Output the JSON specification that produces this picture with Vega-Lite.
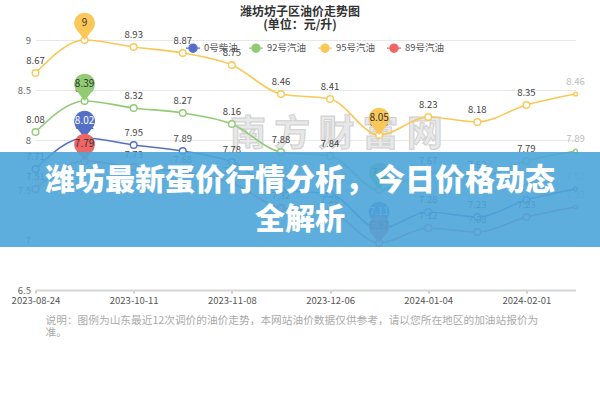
{
  "$schema": "https://vega.github.io/schema/vega-lite/v6.json",
  "width": 540,
  "height": 250,
  "autosize": "none",
  "padding": {"left": 35.5, "top": 40, "right": 24.5, "bottom": 110},
  "background": "white",
  "config": {"font": "Noto Sans CJK SC", "view": {"stroke": null}},
  "title": {
    "text": ["潍坊坊子区油价走势图", "(单位：元/升)"],
    "fontSize": 12,
    "fontWeight": "bold",
    "color": "#333333",
    "lineHeight": 13,
    "anchor": "middle",
    "frame": "group",
    "offset": 0,
    "dx": -5.5,
    "dy": 19
  },
  "datasets": {
    "oil": [
      {"idx": 0, "date": "2023-08-24", "0号柴油": 7.71, "92号汽油": 8.08, "95号汽油": 8.67, "89号汽油": 7.51},
      {"idx": 1, "date": "2023-09-21", "0号柴油": 8.02, "92号汽油": 8.39, "95号汽油": 9.00, "89号汽油": 7.79},
      {"idx": 2, "date": "2023-10-11", "0号柴油": 7.95, "92号汽油": 8.32, "95号汽油": 8.93, "89号汽油": 7.73},
      {"idx": 3, "date": "2023-10-25", "0号柴油": 7.89, "92号汽油": 8.27, "95号汽油": 8.87, "89号汽油": 7.68},
      {"idx": 4, "date": "2023-11-08", "0号柴油": 7.78, "92号汽油": 8.16, "95号汽油": 8.75, "89号汽油": 7.57},
      {"idx": 5, "date": "2023-11-22", "0号柴油": 7.50, "92号汽油": 7.88, "95号汽油": 8.46, "89号汽油": 7.32},
      {"idx": 6, "date": "2023-12-06", "0号柴油": 7.46, "92号汽油": 7.84, "95号汽油": 8.41, "89号汽油": 7.28},
      {"idx": 7, "date": "2023-12-20", "0号柴油": 7.11, "92号汽油": 7.50, "95号汽油": 8.05, "89号汽油": 6.97},
      {"idx": 8, "date": "2024-01-04", "0号柴油": 7.28, "92号汽油": 7.67, "95号汽油": 8.23, "89号汽油": 7.12},
      {"idx": 9, "date": "2024-01-18", "0号柴油": 7.23, "92号汽油": 7.63, "95号汽油": 8.18, "89号汽油": 7.08},
      {"idx": 10, "date": "2024-02-01", "0号柴油": 7.40, "92号汽油": 7.79, "95号汽油": 8.35, "89号汽油": 7.23},
      {"idx": 11, "date": "2024-02-20", "0号柴油": 7.51, "92号汽油": 7.89, "95号汽油": 8.46, "89号汽油": 7.33}
    ],
    "one": [{}]
  },
  "layer": [
    {
      "data": {"name": "one"},
      "mark": {"type": "text", "fontSize": 36, "fontWeight": "bold", "fill": "#e8e8e8", "stroke": "#d0d0d0", "strokeWidth": 1, "baseline": "middle", "align": "center"},
      "encoding": {
        "x": {"datum": 6.13, "type": "quantitative", "scale": {"domain": [0, 11], "nice": false, "zero": false}},
        "y": {"datum": 8.05, "type": "quantitative", "scale": {"domain": [6.5, 9], "nice": false, "zero": false}},
        "text": {"value": "南 方 财 富 网"}
      }
    },
    {
      "data": {"name": "oil"},
      "transform": [{"fold": ["0号柴油", "92号汽油", "95号汽油", "89号汽油"], "as": ["series", "value"]}],
      "encoding": {
        "x": {
          "field": "idx",
          "type": "quantitative",
          "scale": {"domain": [0, 11], "nice": false, "zero": false},
          "axis": {
            "values": [0, 2, 4, 6, 8, 10],
            "labelExpr": "['2023-08-24','2023-09-21','2023-10-11','2023-10-25','2023-11-08','2023-11-22','2023-12-06','2023-12-20','2024-01-04','2024-01-18','2024-02-01','2024-02-20'][datum.value]",
            "grid": false,
            "domainColor": "#d6d6d6",
            "domainWidth": 2,
            "tickColor": "#999999",
            "tickSize": 3,
            "labelFontSize": 9.5,
            "labelColor": "#555555",
            "labelPadding": 2,
            "labelFlush": false,
            "title": ["说明：图例为山东最近12次调价的油价走势，本网站油价数据仅供参考，请以您所在地区的加油站报价为", "准。"],
            "titleX": 9.5,
            "titleY": 25.5,
            "titleAlign": "left",
            "titleAnchor": "start",
            "titleBaseline": "top",
            "titleFontSize": 10.7,
            "titleFontWeight": "normal",
            "titleColor": "#aaaaaa",
            "titleLineHeight": 12
          }
        },
        "y": {
          "field": "value",
          "type": "quantitative",
          "scale": {"domain": [6.5, 9], "nice": false, "zero": false},
          "axis": {
            "values": [6.5, 7, 7.5, 8, 8.5, 9],
            "format": "~g",
            "grid": true,
            "gridColor": "#e8e8e8",
            "domain": false,
            "ticks": false,
            "labelFontSize": 9.5,
            "labelColor": "#666666",
            "labelPadding": 5,
            "title": null
          }
        }
      },
      "layer": [
        {
          "mark": {"type": "line", "interpolate": "monotone", "strokeWidth": 1.6},
          "encoding": {
            "color": {
              "field": "series",
              "type": "nominal",
              "scale": {"domain": ["0号柴油", "92号汽油", "95号汽油", "89号汽油"], "range": ["#5470c6", "#91cc75", "#fac858", "#ee6666"]},
              "legend": {
                "orient": "none",
                "legendX": 149.5,
                "legendY": 0,
                "direction": "horizontal",
                "title": null,
                "padding": 0,
                "symbolType": "M-1,0L-0.58,0M0.58,0L1,0M-0.58,0A0.58,0.58 0 1,0 0.58,0A0.58,0.58 0 1,0 -0.58,0",
                "symbolSize": 196,
                "symbolStrokeWidth": 1.3,
                "labelFontSize": 9.5,
                "labelColor": "#555555",
                "labelOffset": 3,
                "columnPadding": 8
              }
            }
          }
        },
        {
          "mark": {"type": "point", "filled": false, "fill": "white", "strokeWidth": 1.4, "opacity": 1},
          "encoding": {
            "stroke": {
              "field": "series",
              "type": "nominal",
              "scale": {"domain": ["0号柴油", "92号汽油", "95号汽油", "89号汽油"], "range": ["#5470c6", "#91cc75", "#fac858", "#ee6666"]},
              "legend": null
            },
            "size": {"condition": {"test": "datum.idx == 11", "value": 14}, "value": 44}
          }
        },
        {
          "mark": {"type": "text", "dy": -12, "fontSize": 9.5, "baseline": "middle"},
          "encoding": {
            "text": {"field": "value", "type": "quantitative", "format": "~g"},
            "color": {"condition": {"test": "datum.idx == 11", "value": "#bbbbbb"}, "value": "#444444"}
          }
        },
        {
          "transform": [
            {"joinaggregate": [{"op": "max", "field": "value", "as": "vmax"}, {"op": "min", "field": "value", "as": "vmin"}], "groupby": ["series"]},
            {"filter": "datum.value == datum.vmax || datum.value == datum.vmin"}
          ],
          "mark": {"type": "point", "shape": "M0,0L-0.63,-0.81A0.8,0.8 0 1,1 0.63,-0.81Z", "filled": true, "size": 676, "opacity": 1, "strokeWidth": 0},
          "encoding": {
            "fill": {
              "field": "series",
              "type": "nominal",
              "scale": {"domain": ["0号柴油", "92号汽油", "95号汽油", "89号汽油"], "range": ["#5470c6", "#91cc75", "#fac858", "#ee6666"]},
              "legend": null
            }
          }
        },
        {
          "transform": [
            {"joinaggregate": [{"op": "max", "field": "value", "as": "vmax"}, {"op": "min", "field": "value", "as": "vmin"}], "groupby": ["series"]},
            {"filter": "datum.value == datum.vmax || datum.value == datum.vmin"}
          ],
          "mark": {"type": "text", "dy": -17, "fontSize": 10, "baseline": "middle"},
          "encoding": {
            "text": {"field": "value", "type": "quantitative", "format": "~g"},
            "color": {"condition": {"test": "datum.series == '0号柴油'", "value": "white"}, "value": "#333333"}
          }
        }
      ]
    },
    {
      "data": {"name": "one"},
      "mark": {"type": "rect", "fill": "#4ca5d9", "opacity": 0.9},
      "encoding": {
        "x": {"datum": -0.8, "type": "quantitative", "scale": {"domain": [0, 11], "nice": false, "zero": false}},
        "x2": {"datum": 11.6},
        "y": {"datum": 7.88, "type": "quantitative", "scale": {"domain": [6.5, 9], "nice": false, "zero": false}},
        "y2": {"datum": 6.93}
      }
    },
    {
      "data": {"name": "one"},
      "mark": {"type": "text", "fontSize": 30, "fontWeight": 900, "fill": "white", "lineHeight": 39, "baseline": "middle", "align": "center"},
      "encoding": {
        "x": {"datum": 5.39, "type": "quantitative", "scale": {"domain": [0, 11], "nice": false, "zero": false}},
        "y": {"datum": 7.59, "type": "quantitative", "scale": {"domain": [6.5, 9], "nice": false, "zero": false}},
        "text": {"value": ["潍坊最新蛋价行情分析，今日价格动态", "全解析"]}
      }
    }
  ]
}
